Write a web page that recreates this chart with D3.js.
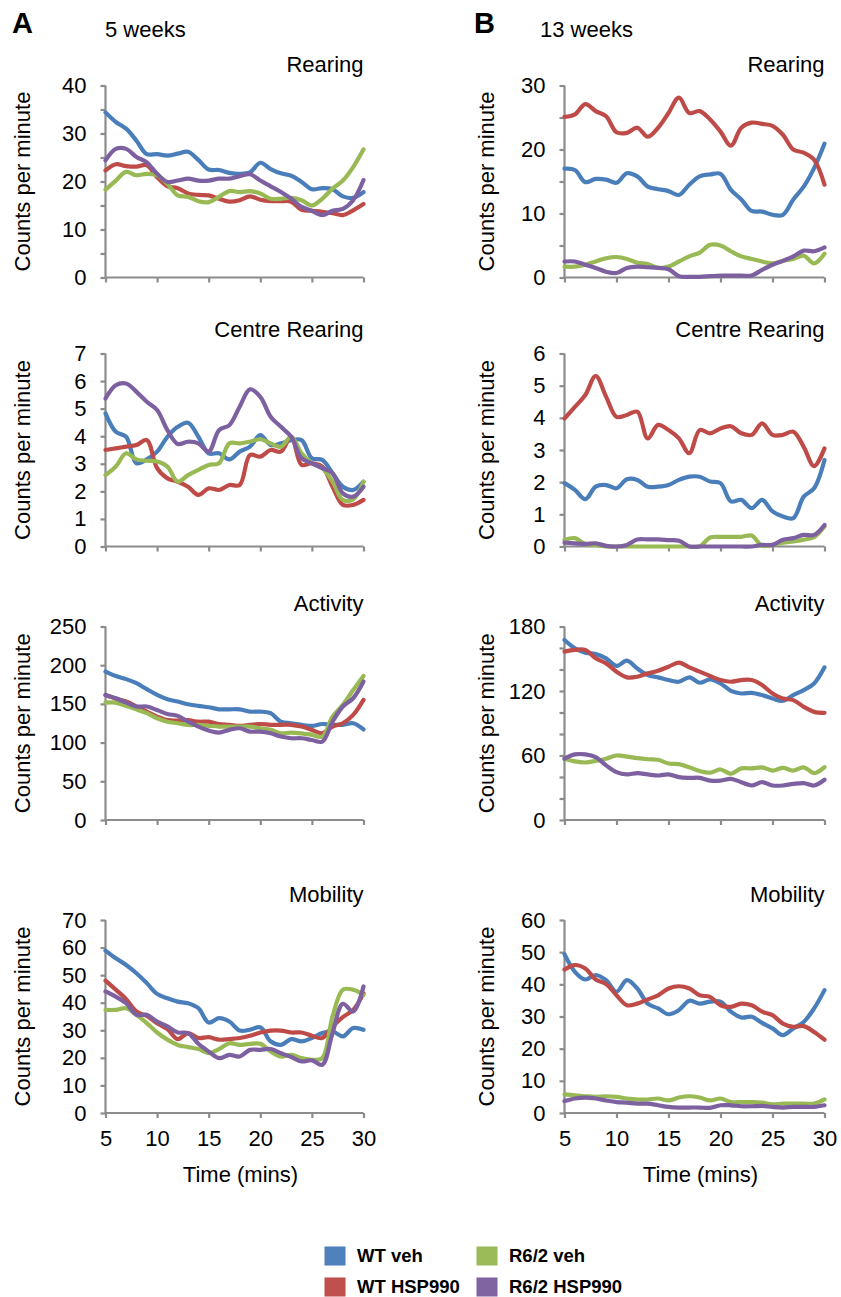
<!DOCTYPE html>
<html>
<head>
<meta charset="utf-8">
<script src="https://cdn.jsdelivr.net/npm/d3@7"></script>
<style>
  html, body { margin: 0; padding: 0; background: #fff; }
  svg { display: block; font-family: "Liberation Sans", Arial, sans-serif; }
</style>
</head>
<body>
<svg id="chart" width="841" height="1297"></svg>
<script>
// Minutes of the open-field session
const minutes = [5,6,7,8,9,10,11,12,13,14,15,16,17,18,19,20,21,22,23,24,25,26,27,28,29,30];

// Treatment groups (series order: WT veh, WT HSP990, R6/2 veh, R6/2 HSP990)
const groups = ["WT veh", "WT HSP990", "R6/2 veh", "R6/2 HSP990"];
const lineColors = ["#4A7EBB", "#BE4B48", "#98B954", "#7D60A0"];
const fillColors = ["#4F81BD", "#C0504D", "#9BBB59", "#8064A2"];

// ---- 5 weeks ----
const rearing5 = [
  [34.4,32.4,31.0,28.5,25.7,25.7,25.4,25.8,26.2,24.5,22.5,22.4,21.8,21.6,21.9,23.9,22.6,21.7,21.2,19.9,18.4,18.6,18.4,16.9,16.6,17.8],
  [22.3,23.6,23.2,23.1,23.4,20.9,19.0,18.6,17.5,17.2,17.1,16.4,15.8,16.1,16.9,16.2,15.9,15.9,15.8,14.1,13.9,13.7,13.4,13.0,14.0,15.3],
  [18.3,20.2,22.0,21.3,21.6,21.3,19.5,17.1,16.8,15.9,15.7,16.8,18.0,17.8,18.0,17.5,16.4,16.4,16.6,16.1,15.0,16.4,18.5,20.2,23.0,26.7],
  [24.4,26.8,26.8,25.1,24.0,21.6,19.9,20.2,20.6,20.2,20.2,20.6,20.6,21.1,21.5,20.2,19.0,17.8,16.4,14.7,13.9,13.0,13.9,14.3,16.1,20.3]
];
const centre5 = [
  [4.83,4.16,3.98,3.02,3.16,3.44,3.98,4.34,4.49,3.98,3.38,3.38,3.16,3.44,3.62,4.04,3.68,3.74,3.86,3.86,3.20,3.14,2.66,2.17,2.05,2.35],
  [3.50,3.56,3.62,3.68,3.86,2.84,2.47,2.35,2.17,1.87,2.11,2.05,2.23,2.23,3.32,3.26,3.50,3.44,3.98,2.96,3.02,2.90,2.17,1.51,1.51,1.69],
  [2.59,2.90,3.38,3.16,3.11,3.08,2.90,2.35,2.59,2.78,2.96,3.02,3.74,3.74,3.80,3.89,3.74,3.62,3.98,3.38,3.02,2.84,2.35,1.69,1.71,2.35],
  [5.37,5.85,5.91,5.61,5.25,4.95,4.22,3.72,3.80,3.74,3.44,4.22,4.40,5.07,5.70,5.43,4.71,4.34,3.98,3.20,3.02,2.84,2.66,1.93,1.81,2.17]
];
const activity5 = [
  [191.8,186,182,176.7,169,161.6,156,153,149.6,147.4,145.7,143,143,143,140,140,138,127,125,123,121.6,124,123,123,125,117],
  [161.6,157,153,146.6,140,133.6,129,128.4,129,127,127,124,123,121.6,123,124,123,123,123,120.7,116.4,112,120.7,125,135.8,155.2],
  [151.7,151.7,147.4,143,138,131.5,127,125,122.8,122.8,121.6,120.7,120.7,120.7,120.7,118.5,116.4,112,113,112,110,107.8,133.6,148.7,168,186.2],
  [161.6,157.3,151.7,146.6,146.6,142,137,134.5,127,120.7,115.5,113,116.4,118.5,114.2,114.2,112,107.8,105.6,105.6,103.4,101.3,127,146.6,157.3,178.9]
];
const mobility5 = [
  [58.9,56.1,53.7,50.7,47.1,43.2,41.6,40.4,39.8,38.0,32.8,34.4,33.2,29.9,30.2,31.1,26.0,24.7,26.8,26.0,27.2,29.0,29.6,27.8,30.8,30.2],
  [48.0,44.7,41.3,36.8,35.2,32.6,30.4,26.8,29.0,27.2,27.5,26.6,26.8,27.2,28.0,29.2,29.9,29.9,29.2,29.2,28.0,27.2,31.4,34.8,37.4,43.4],
  [37.4,37.4,38.0,35.6,32.6,29.2,26.6,24.7,23.9,23.2,21.7,23.2,25.3,24.7,25.1,25.1,22.3,20.5,21.1,19.9,19.3,19.9,35.0,44.7,44.7,42.8],
  [44.1,42.2,39.8,35.6,35.6,33.2,31.4,29.2,29.0,25.1,22.3,19.9,21.1,20.5,22.9,22.9,23.2,21.7,20.3,18.7,19.1,17.5,29.0,39.6,36.8,45.9]
];

// ---- 13 weeks ----
const rearing13 = [
  [17.0,16.8,14.9,15.4,15.3,14.8,16.3,15.8,14.2,13.8,13.5,12.9,14.5,15.8,16.1,16.2,13.7,12.2,10.4,10.3,9.8,9.8,12.2,14.2,17.1,20.9],
  [25.1,25.5,27.1,26.0,25.2,22.7,22.6,23.4,22.0,23.4,25.7,28.1,25.7,26.0,24.7,22.8,20.6,23.4,24.2,24.0,23.7,22.3,20.0,19.5,18.4,14.5],
  [1.7,1.7,2.0,2.5,3.0,3.2,2.9,2.3,2.1,1.5,1.7,2.5,3.3,3.9,5.1,5.0,4.1,3.3,2.9,2.5,2.2,2.6,2.9,3.4,2.2,3.7],
  [2.5,2.5,2.0,1.5,0.9,0.7,1.5,1.7,1.6,1.5,1.3,0.2,0.1,0.1,0.2,0.3,0.3,0.3,0.3,1.2,2.0,2.6,3.3,4.2,4.1,4.7]
];
const centre13 = [
  [1.97,1.76,1.47,1.86,1.91,1.81,2.09,2.07,1.86,1.86,1.91,2.07,2.17,2.17,2.02,1.97,1.40,1.45,1.19,1.45,1.09,0.93,0.88,1.55,1.81,2.69],
  [3.98,4.34,4.71,5.30,4.66,4.03,4.09,4.19,3.36,3.78,3.62,3.36,2.90,3.62,3.52,3.67,3.74,3.52,3.47,3.83,3.47,3.47,3.57,3.10,2.50,3.05],
  [0.21,0.26,0.08,0.05,0.0,0.0,0.0,0.0,0.0,0.0,0.0,0.0,0.0,0.0,0.28,0.30,0.30,0.30,0.34,0.02,0.05,0.12,0.16,0.21,0.29,0.62],
  [0.12,0.10,0.08,0.10,0.02,0.0,0.05,0.22,0.22,0.22,0.20,0.18,0.0,0.0,0.0,0.0,0.0,0.0,0.0,0.05,0.05,0.21,0.26,0.36,0.36,0.67]
];
const activity13 = [
  [167.5,159.8,155.7,154.5,150.4,143.3,148.2,141,134.8,132.7,130.2,128.6,132.7,127.7,130.8,127,120.2,117.7,118.3,116.2,113,110.9,116.2,120.8,127,142],
  [156.6,158.2,158.2,150.4,145.7,138,132.7,133.3,136.4,138.9,142.6,146.4,142,138,133.9,130.2,128.6,130.2,130.2,125.5,117.7,113,111.5,105.3,100.6,99.7],
  [57,54.5,53.5,55,57,60,59,57.5,56.5,56,52.5,52,49,45.5,44,47,43,48,48,49,46,48.5,46,49,43.6,49.2],
  [57,61,61,58.5,50.8,44.5,42.4,43.6,42.4,41.4,42.4,39.9,39.2,39.2,36.7,36.7,38.3,35.2,32.1,35.2,32.1,32.1,33.6,34.3,32.1,37.4]
];
const mobility13 = [
  [49.4,43.9,41.5,42.9,41.3,37.7,41.3,38.7,34.0,32.5,30.7,32.0,34.9,34.0,34.6,34.6,31.5,29.7,29.9,28.0,26.3,24.2,26.3,28.3,32.5,38.2],
  [44.6,46.0,44.9,41.5,40.1,36.6,33.5,34.0,35.3,36.6,38.7,39.4,38.7,36.6,36.1,33.5,33.0,34.0,33.5,31.5,30.4,27.8,26.8,27.0,25.2,22.8],
  [5.8,5.5,5.2,5.0,5.2,5.0,4.5,4.2,4.2,4.5,3.9,4.8,5.2,4.8,3.9,4.5,3.4,3.4,3.4,3.2,2.7,2.9,2.9,2.9,2.9,4.2],
  [3.7,4.5,4.8,4.5,3.9,3.4,3.2,2.9,2.9,2.4,1.9,1.7,1.7,1.7,1.6,2.4,2.4,2.1,2.1,2.2,1.9,1.7,1.9,1.9,1.9,2.4]
];

// Axis ticks and labels
const xTicks = [5,10,15,20,25,30];
const panelTitles = ["Rearing", "Centre Rearing", "Activity", "Mobility"];
const columnLetters = ["A", "B"];
const columnAges = ["5 weeks", "13 weeks"];
const yLabel = "Counts per minute";
const xLabel = "Time (mins)";

// Panel definitions: data, axis max, tick spacing and label spacing
const panels = [
  {col:0, row:0, data:rearing5,   max:40,  tick:5,  label:10},
  {col:0, row:1, data:centre5,    max:7,   tick:1,  label:1},
  {col:0, row:2, data:activity5,  max:250, tick:50, label:50},
  {col:0, row:3, data:mobility5,  max:70,  tick:10, label:10},
  {col:1, row:0, data:rearing13,  max:30,  tick:5,  label:10},
  {col:1, row:1, data:centre13,   max:6,   tick:1,  label:1},
  {col:1, row:2, data:activity13, max:180, tick:20, label:60},
  {col:1, row:3, data:mobility13, max:60,  tick:10, label:10}
];

// ---- layout ----
const colGeom = [
  {x0:105.5, x1:363.5, yLabelX:24, letterX:12, ageX:105},
  {x0:564.5, x1:824.5, yLabelX:488, letterX:474, ageX:540}
];
const rowGeom = [
  {top:85.5,  bottom:277.5, titleY:72},
  {top:353.5, bottom:546.5, titleY:336.5},
  {top:626.5, bottom:820,   titleY:610.5},
  {top:920,   bottom:1113,  titleY:901.5}
];
const axisColor = "#8C8C8C";
const fontSize = 22;

const svg = d3.select("#chart");

// Column headers
colGeom.forEach((c, i) => {
  svg.append("text").attr("x", c.letterX).attr("y", 33)
    .attr("font-size", 29).attr("font-weight", "bold").attr("fill", "#000")
    .text(columnLetters[i]);
  svg.append("text").attr("x", c.ageX).attr("y", 37)
    .attr("font-size", fontSize).attr("fill", "#000")
    .text(columnAges[i]);
});

const line = d3.line().curve(d3.curveCatmullRom.alpha(0.5));

panels.forEach(p => {
  const c = colGeom[p.col], r = rowGeom[p.row];
  const x = d3.scaleLinear().domain([5, 30]).range([c.x0, c.x1]);
  const y = d3.scaleLinear().domain([0, p.max]).range([r.bottom, r.top]);
  const g = svg.append("g");

  // y axis
  const yTicks = d3.range(0, p.max + p.tick / 2, p.tick);
  const yAxis = d3.axisLeft(y).tickValues(yTicks).tickSize(5).tickPadding(14)
    .tickFormat(d => (Math.round(d / p.label * 1000) % 1000 === 0) ? d3.format("d")(d) : "");
  const ya = g.append("g").attr("transform", `translate(${c.x0},0)`).call(yAxis);

  // x axis
  const xAxis = d3.axisBottom(x).tickValues(xTicks).tickSize(5).tickPadding(12)
    .tickFormat(d => p.row === 3 ? d : "");
  const xa = g.append("g").attr("transform", `translate(0,${r.bottom})`).call(xAxis);

  [ya, xa].forEach(a => {
    a.select(".domain").attr("stroke", axisColor).attr("stroke-width", 2.2);
    a.selectAll(".tick line").attr("stroke", axisColor).attr("stroke-width", 2.2);
    a.selectAll(".tick text").attr("fill", "#000").attr("font-size", fontSize)
      .attr("font-family", "Liberation Sans, Arial, sans-serif");
  });
  // plain domain lines without end stubs
  ya.select(".domain").attr("d", `M0,${r.top}V${r.bottom}`);
  xa.select(".domain").attr("d", `M${c.x0},0H${c.x1}`);

  // panel title
  g.append("text").attr("x", c.x1).attr("y", r.titleY).attr("text-anchor", "end")
    .attr("font-size", fontSize).attr("fill", "#000").text(panelTitles[p.row]);

  // y-axis title
  const cy = (r.top + r.bottom) / 2;
  g.append("text")
    .attr("transform", `translate(${c.yLabelX + 6},${cy}) rotate(-90)`)
    .attr("text-anchor", "middle").attr("font-size", fontSize).attr("fill", "#000")
    .text(yLabel);

  // series lines
  p.data.forEach((vals, si) => {
    g.append("path")
      .attr("d", line(minutes.map((m, i) => [x(m), y(vals[i])])))
      .attr("fill", "none").attr("stroke", lineColors[si])
      .attr("stroke-width", 4.2).attr("stroke-linejoin", "round").attr("stroke-linecap", "round");
  });

  // x-axis title (bottom row only)
  if (p.row === 3) {
    g.append("text").attr("x", (c.x0 + c.x1) / 2 + 6).attr("y", 1182)
      .attr("text-anchor", "middle").attr("font-size", fontSize).attr("fill", "#000")
      .text(xLabel);
  }
});

// Legend: two columns, filled column-wise
const legend = svg.append("g");
const legendCols = [325, 477];
const legendRows = [1247, 1278];
groups.forEach((name, i) => {
  const lx = legendCols[Math.floor(i / 2)], ly = legendRows[i % 2];
  legend.append("rect").attr("x", lx).attr("y", ly).attr("width", 20).attr("height", 18)
    .attr("fill", fillColors[i]).attr("stroke", lineColors[i]).attr("stroke-width", 1);
  legend.append("text").attr("x", lx + 32).attr("y", ly + 15)
    .attr("font-size", 18.5).attr("font-weight", "bold").attr("fill", "#000").text(name);
});
</script>
</body>
</html>
